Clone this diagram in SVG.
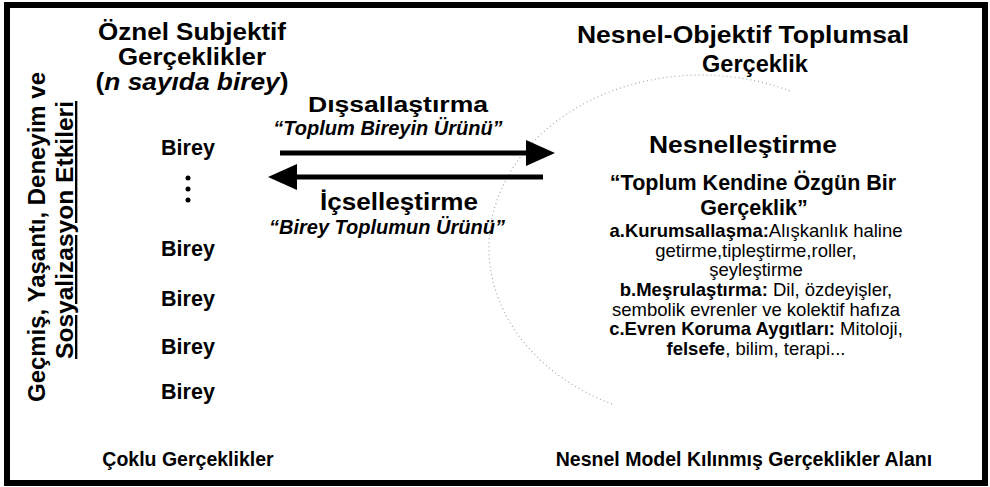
<svg xmlns="http://www.w3.org/2000/svg" width="990" height="487" viewBox="0 0 990 487">
<style>
text{font-family:"Liberation Sans",Arial,sans-serif;fill:#000;text-anchor:middle}
.b{font-weight:bold}
.bi{font-weight:bold;font-style:italic}
.title{font-size:23.5px;font-weight:bold}
.birey{font-size:21.5px;font-weight:bold}
.big{font-size:23.5px;font-weight:bold}
.quote{font-size:20px;font-weight:bold;font-style:italic}
.list{font-size:18.5px}
.foot{font-size:19.5px;font-weight:bold}
.side{font-size:23.5px;font-weight:bold}
.conn{stroke:#000;stroke-width:5;fill:none}
</style>
<defs>
<marker id="head" markerUnits="userSpaceOnUse" markerWidth="32" markerHeight="28" refX="0" refY="13" orient="auto">
<path d="M0,0 L29,13 L0,26 Z" fill="#000"/>
</marker>
</defs>
<rect width="990" height="487" fill="#fff"/>
<g id="frame"><rect x="7" y="5" width="978" height="478" fill="none" stroke="#000" stroke-width="6"/></g>
<g id="field"><path d="M 612,404 A 203,165 0 0 1 790,91" fill="none" stroke="#a8a8a8" stroke-width="1.2" stroke-dasharray="1 3"/></g>
<g id="side-label">
<text class="side" transform="translate(45,237) rotate(-90)" textLength="330" lengthAdjust="spacingAndGlyphs">Geçmiş, Yaşantı, Deneyim ve</text>
<text class="side" transform="translate(73,230) rotate(-90)" textLength="258" lengthAdjust="spacingAndGlyphs" text-decoration="underline">Sosyalizasyon Etkileri</text>
</g>
<g id="subjective-title">
<text class="title" x="192" y="40" textLength="188" lengthAdjust="spacingAndGlyphs">Öznel Subjektif</text>
<text class="title" x="192" y="65" textLength="148" lengthAdjust="spacingAndGlyphs">Gerçeklikler</text>
<text class="title" x="192" y="90" textLength="193" lengthAdjust="spacingAndGlyphs">(<tspan class="bi">n sayıda birey</tspan>)</text>
</g>
<g id="objective-title">
<text class="title" x="743" y="43" textLength="332" lengthAdjust="spacingAndGlyphs">Nesnel-Objektif Toplumsal</text>
<text class="title" x="755" y="72">Gerçeklik</text>
</g>
<g id="birey-1"><text class="birey" x="188" y="155">Birey</text></g>
<g id="ellipsis"><circle cx="188" cy="178" r="2.5"/><circle cx="188" cy="189" r="2.5"/><circle cx="188" cy="200" r="2.5"/></g>
<g id="birey-2"><text class="birey" x="188" y="256">Birey</text></g>
<g id="birey-3"><text class="birey" x="188" y="306">Birey</text></g>
<g id="birey-4"><text class="birey" x="188" y="354">Birey</text></g>
<g id="birey-5"><text class="birey" x="188" y="399">Birey</text></g>
<g id="connectors">
<line class="conn" x1="280" y1="153" x2="526" y2="153" marker-end="url(#head)"/>
<line class="conn" x1="543" y1="177" x2="297" y2="177" marker-end="url(#head)"/>
</g>
<g id="externalization">
<text class="big" style="font-size:22.5px" x="398" y="112" textLength="180" lengthAdjust="spacingAndGlyphs">Dışsallaştırma</text>
<text class="quote" x="388" y="135">“Toplum Bireyin Ürünü”</text>
</g>
<g id="internalization">
<text class="big" x="399" y="210" textLength="158" lengthAdjust="spacingAndGlyphs">İçselleştirme</text>
<text class="quote" x="387" y="234">“Birey Toplumun Ürünü”</text>
</g>
<g id="objectivation">
<text class="big" x="743" y="153" textLength="188" lengthAdjust="spacingAndGlyphs">Nesnelleştirme</text>
<text class="b" style="font-size:21.5px" x="753" y="190">“Toplum Kendine Özgün Bir</text>
<text class="b" style="font-size:21.5px" x="754" y="215">Gerçeklik”</text>
<text class="list" x="756" y="237"><tspan class="b">a.Kurumsallaşma:</tspan>Alışkanlık haline</text>
<text class="list" x="756" y="257">getirme,tipleştirme,roller,</text>
<text class="list" x="756" y="276">şeyleştirme</text>
<text class="list" x="756" y="296"><tspan class="b">b.Meşrulaştırma:</tspan> Dil, özdeyişler,</text>
<text class="list" x="756" y="316">sembolik evrenler ve kolektif hafıza</text>
<text class="list" x="756" y="335"><tspan class="b">c.Evren Koruma Aygıtları:</tspan> Mitoloji,</text>
<text class="list" x="756" y="355"><tspan class="b">felsefe</tspan>, bilim, terapi...</text>
</g>
<g id="footer-left"><text class="foot" x="188" y="466">Çoklu Gerçeklikler</text></g>
<g id="footer-right"><text class="foot" x="744" y="466">Nesnel Model Kılınmış Gerçeklikler Alanı</text></g>
</svg>
